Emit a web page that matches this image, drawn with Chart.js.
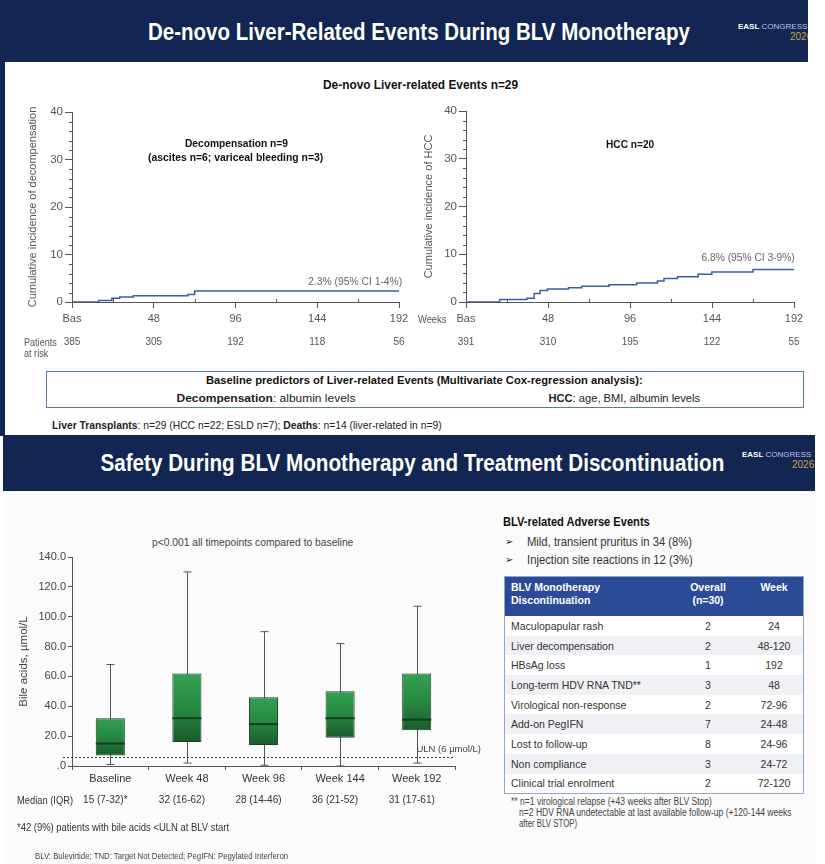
<!DOCTYPE html>
<html>
<head>
<meta charset="utf-8">
<script src="https://cdn.jsdelivr.net/npm/chart.js@4.4.1/dist/chart.umd.min.js"></script>
<style>
body { margin: 0; width: 825px; height: 864px; position: relative; overflow: hidden; background: #fff; font-family: "Liberation Sans", Arial, sans-serif; color: #333; }
.box { position: absolute; }
.t { position: absolute; white-space: nowrap; line-height: 1; }
.navy { background: #132552; }
canvas { position: absolute; }
.logo { position: absolute; color: #fff; font-size: 8px; white-space: nowrap; overflow: hidden; }
.logo b { font-size: 8px; }
.logo span { color: #b9c7e8; }
.logo i { font-style: normal; color: #c9a64a; font-size: 10px; }
table { position: absolute; left: 504px; top: 576px; width: 300px; border-collapse: collapse; font-size: 10.5px; color: #333; border: 1px solid #8ca6cf; }
th { background: #2c4b97; color: #fff; font-weight: bold; font-size: 10.5px; height: 35px; vertical-align: top; padding: 4px 0 0 0; line-height: 13px; }
td { height: 19.7px; padding: 0; }
tbody tr:nth-child(odd) { background: #ffffff; }
tbody tr:nth-child(even) { background: #eff1f5; }
.c1 { text-align: left; padding-left: 6px; }
.c2, .c3 { text-align: center; }
</style>
</head>
<body>

<!-- top section -->
<div class="box navy" style="left:0;top:0;width:808px;height:62px;"></div>
<div class="box navy" style="left:0;top:0;width:5px;height:436px;"></div>
<div class="logo" style="left:738px;top:22px;width:70px;"><b>EASL</b> <span>CONGRESS</span><br><i style="padding-left:52px">2026</i></div>
<div class="t" data-cx="419" data-cy="32" data-w="542" style="color:#fff;font-weight:bold;font-size:23px;">De-novo Liver-Related Events During BLV Monotherapy</div>
<div class="t" data-cx="420" data-cy="85" data-w="195" style="font-weight:bold;font-size:12px;color:#111;">De-novo Liver-related Events n=29</div>

<canvas id="kmLeft" width="420" height="265" style="left:0;top:95px;"></canvas>
<canvas id="kmRight" width="410" height="265" style="left:410px;top:95px;"></canvas>

<div class="t" data-cx="236" data-cy="143" data-w="103" style="font-weight:bold;font-size:11px;color:#111;">Decompensation n=9</div>
<div class="t" data-cx="235" data-cy="157" data-w="175" style="font-weight:bold;font-size:11px;color:#111;">(ascites n=6; variceal bleeding n=3)</div>
<div class="t" data-cx="355" data-cy="281" data-w="94" style="font-size:11px;color:#666;">2.3% (95% CI 1-4%)</div>
<div class="t" data-cx="630" data-cy="144" data-w="48" style="font-weight:bold;font-size:11px;color:#111;">HCC n=20</div>
<div class="t" data-cx="748" data-cy="257" data-w="93" style="font-size:11px;color:#666;">6.8% (95% CI 3-9%)</div>
<div class="t" data-lx="24" data-cy="342" data-w="33" style="font-size:11px;color:#555;">Patients</div>
<div class="t" data-lx="24" data-cy="353" data-w="24" style="font-size:11px;color:#555;">at risk</div>
<div class="t" data-lx="418" data-cy="319" data-w="28" style="font-size:11px;color:#555;">Weeks</div>

<div class="box" style="left:46px;top:371px;width:756px;height:35px;border:1.5px solid #5b78a9;background:#fff;"></div>
<div class="t" data-cx="424" data-cy="381" data-w="437" style="font-weight:bold;font-size:11.5px;color:#111;">Baseline predictors of Liver-related Events (Multivariate Cox-regression analysis):</div>
<div class="t" data-cx="266" data-cy="399" data-w="179" style="font-size:11.5px;color:#222;"><b>Decompensation</b>: albumin levels</div>
<div class="t" data-cx="624" data-cy="399" data-w="152" style="font-size:11.5px;color:#222;"><b>HCC</b>: age, BMI, albumin levels</div>
<div class="t" data-lx="52" data-cy="425" data-w="390" style="font-size:10.5px;color:#222;"><b>Liver Transplants</b>: n=29 (HCC n=22; ESLD n=7); <b>Deaths</b>: n=14 (liver-related in n=9)</div>

<!-- bottom section -->
<div class="box navy" style="left:3px;top:435px;width:812px;height:56px;"></div>
<div class="box" style="left:3px;top:493px;width:812px;height:371px;background:#fbfbfb;"></div>
<div class="logo" style="left:742px;top:450px;width:75px;"><b>EASL</b> <span>CONGRESS</span><br><i style="padding-left:50px">2026</i></div>
<div class="t" data-cx="412" data-cy="463" data-w="624" style="color:#fff;font-weight:bold;font-size:23px;">Safety During BLV Monotherapy and Treatment Discontinuation</div>

<div class="t" data-cx="252" data-cy="543" data-w="201" style="font-size:11.5px;color:#444;">p&lt;0.001 all timepoints compared to baseline</div>
<canvas id="boxChart" width="500" height="280" style="left:0;top:530px;"></canvas>
<div class="t" data-lx="17" data-cy="800" data-w="56" style="font-size:11px;color:#333;">Median (IQR)</div>
<div class="t" data-lx="17" data-cy="827" data-w="212" style="font-size:11px;color:#333;">*42 (9%) patients with bile acids &lt;ULN at BLV start</div>
<div class="t" data-lx="35" data-cy="856" data-w="253" style="font-size:9.5px;color:#444;">BLV: Bulevirtide; TND: Target Not Detected; PegIFN: Pegylated Interferon</div>

<div class="t" data-lx="503" data-cy="522" data-w="147" style="font-weight:bold;font-size:12px;color:#111;">BLV-related Adverse Events</div>
<div class="t" data-lx="505" data-cy="542" style="font-size:10px;color:#222;">&#10146;</div>
<div class="t" data-lx="527" data-cy="542" data-w="165" style="font-size:12px;color:#333;">Mild, transient pruritus in 34 (8%)</div>
<div class="t" data-lx="505" data-cy="560" style="font-size:10px;color:#222;">&#10146;</div>
<div class="t" data-lx="527" data-cy="560" data-w="166" style="font-size:12px;color:#333;">Injection site reactions in 12 (3%)</div>

<table id="discTable">
  <thead><tr><th class="c1" style="width:160px;">BLV Monotherapy<br>Discontinuation</th><th class="c2" style="width:74px;">Overall<br>(n=30)</th><th class="c3">Week</th></tr></thead>
  <tbody id="discBody"></tbody>
</table>

<div class="t" data-lx="511" data-cy="802" data-w="201" style="font-size:10px;color:#444;">** n=1 virological relapse (+43 weeks after BLV Stop)</div>
<div class="t" data-lx="519" data-cy="813" data-w="273" style="font-size:10px;color:#444;">n=2 HDV RNA undetectable at last available follow-up (+120-144 weeks</div>
<div class="t" data-lx="519" data-cy="824" data-w="58" style="font-size:10px;color:#444;">after BLV STOP)</div>

<script>
// cumulative incidence curves (weeks / %)
var decompWeeks = [0, 15.6, 23.4, 28, 36, 68, 72, 192];
var decompValues = [0, 0.3, 0.8, 1.05, 1.3, 1.6, 2.3, 2.3];
var hccWeeks = [0, 19.7, 35.6, 39.9, 43.4, 47.7, 60, 67.8, 83.7, 99.9, 112, 115.9, 123.8, 135.9, 143.9, 168, 192];
var hccValues = [0, 0.5, 0.8, 1.8, 2.4, 2.7, 3.0, 3.3, 3.6, 4.0, 4.4, 4.9, 5.3, 5.8, 6.3, 6.8, 6.8];
var riskWeeks = [0, 48, 96, 144, 192];
var riskDecomp = [385, 305, 192, 118, 56];
var riskHcc = [391, 310, 195, 122, 55];

// bile acids box plot
var timepoints = ["Baseline", "Week 48", "Week 96", "Week 144", "Week 192"];
var baMin = [1, 2, 0.5, 0, 2];
var baQ1 = [7, 16, 14, 19, 24];
var baMedian = [15, 32, 28, 32, 31];
var baQ3 = [32, 62, 46, 50, 62];
var baMax = [68, 130, 90, 82, 107];
var medianLabels = ["15 (7-32)*", "32 (16-62)", "28 (14-46)", "36 (21-52)", "31 (17-61)"];
var uln = 6;

// discontinuation table
var discReasons = ["Maculopapular rash", "Liver decompensation", "HBsAg loss", "Long-term HDV RNA TND**", "Virological non-response", "Add-on PegIFN", "Lost to follow-up", "Non compliance", "Clinical trial enrolment"];
var discCounts = [2, 2, 1, 3, 2, 7, 8, 3, 2];
var discWeeks = ["24", "48-120", "192", "48", "72-96", "24-48", "24-96", "24-72", "72-120"];

Chart.defaults.font.family = '"Liberation Sans", Arial, sans-serif';
Chart.defaults.color = '#555';
Chart.defaults.animation = false;

function placeTexts() {
    document.querySelectorAll('.t').forEach(function (el) {
        var w = el.offsetWidth, h = el.offsetHeight;
        var s = el.dataset.w ? el.dataset.w / w : 1;
        el.style.top = (el.dataset.cy - h / 2) + 'px';
        if (el.dataset.cx) {
            el.style.left = (el.dataset.cx - w / 2) + 'px';
            el.style.transformOrigin = 'center center';
        } else {
            el.style.left = el.dataset.lx + 'px';
            el.style.transformOrigin = 'left center';
        }
        if (s !== 1) el.style.transform = 'scaleX(' + s + ')';
    });
}

function fillTable() {
    var html = "";
    for (var i = 0; i < discReasons.length; i++) {
        html += "<tr><td class='c1'>" + discReasons[i] + "</td><td class='c2'>" + discCounts[i] + "</td><td class='c3'>" + discWeeks[i] + "</td></tr>";
    }
    document.getElementById("discBody").innerHTML = html;
}

// minor ticks + patients at risk row
var kmExtras = {
    id: 'kmExtras',
    afterDraw: function (chart, args, opts) {
        var ctx = chart.ctx, xs = chart.scales.x, ys = chart.scales.y;
        ctx.save();
        ctx.strokeStyle = '#555';
        ctx.lineWidth = 1;
        for (var v = 2; v < 40; v += 2) {
            if (v % 10 === 0) continue;
            var py = Math.round(ys.getPixelForValue(v)) + 0.5;
            ctx.beginPath(); ctx.moveTo(xs.left - 3, py); ctx.lineTo(xs.left, py); ctx.stroke();
        }
        for (var w = 24; w < 192; w += 48) {
            var px = Math.round(xs.getPixelForValue(w)) + 0.5;
            ctx.beginPath(); ctx.moveTo(px, ys.bottom); ctx.lineTo(px, ys.bottom - 3); ctx.stroke();
        }
        ctx.fillStyle = '#555';
        ctx.font = '10px "Liberation Sans", Arial, sans-serif';
        ctx.textAlign = 'center';
        ctx.textBaseline = 'middle';
        for (var i = 0; i < opts.risk.length; i++) {
            ctx.fillText(opts.risk[i], xs.getPixelForValue(riskWeeks[i]), chart.chartArea.bottom + 40);
        }
        ctx.restore();
    }
};

function kmChart(id, weeks, values, risk, title, pad, yWidth) {
    var pts = weeks.map(function (w, i) { return { x: w, y: values[i] }; });
    return new Chart(document.getElementById(id), {
        type: 'line',
        data: {
            datasets: [{
                data: pts,
                borderColor: '#3c5ca6',
                borderWidth: 1.5,
                pointRadius: 0,
                stepped: true,
                fill: false
            }]
        },
        options: {
            responsive: false,
            layout: { padding: pad },
            plugins: { legend: { display: false }, tooltip: { enabled: false }, kmExtras: { risk: risk } },
            scales: {
                x: {
                    type: 'linear', min: 0, max: 192,
                    afterFit: function (s) { s.height = 58; },
                    ticks: { stepSize: 48, autoSkip: false, maxRotation: 0, padding: 4, color: '#555', font: { size: 11 },
                        callback: function (v) { return v === 0 ? 'Bas' : v; } },
                    grid: { drawOnChartArea: false, tickLength: 6, color: '#555' },
                    border: { color: '#555' }
                },
                y: {
                    min: 0, max: 40,
                    afterFit: function (s) { s.width = yWidth; },
                    ticks: { stepSize: 10, padding: 2, color: '#555', font: { size: 11.5 } },
                    grid: { drawOnChartArea: false, tickLength: 7, color: '#555' },
                    border: { color: '#555' },
                    title: { display: true, text: title, color: '#555', font: { size: 11 } }
                }
            }
        },
        plugins: [kmExtras]
    });
}

// whiskers, medians, ULN line and median labels
var boxExtras = {
    id: 'boxExtras',
    beforeDatasetsDraw: function (chart) {
        var ctx = chart.ctx, xs = chart.scales.x, ys = chart.scales.y;
        ctx.save();
        ctx.strokeStyle = '#555';
        ctx.lineWidth = 1;
        for (var i = 0; i < timepoints.length; i++) {
            var x = Math.round(xs.getPixelForValue(i)) + 0.5;
            var top = ys.getPixelForValue(baMax[i]), bot = ys.getPixelForValue(baMin[i]);
            ctx.beginPath();
            ctx.moveTo(x, top); ctx.lineTo(x, bot);
            ctx.moveTo(x - 4, top); ctx.lineTo(x + 4, top);
            ctx.moveTo(x - 4, bot); ctx.lineTo(x + 4, bot);
            ctx.stroke();
        }
        ctx.restore();
    },
    afterDatasetsDraw: function (chart) {
        var ctx = chart.ctx, xs = chart.scales.x, ys = chart.scales.y;
        var meta = chart.getDatasetMeta(0);
        ctx.save();
        ctx.strokeStyle = '#143a21';
        ctx.lineWidth = 2;
        for (var i = 0; i < timepoints.length; i++) {
            var bar = meta.data[i];
            var y = ys.getPixelForValue(baMedian[i]);
            ctx.beginPath(); ctx.moveTo(bar.x - bar.width / 2, y); ctx.lineTo(bar.x + bar.width / 2, y); ctx.stroke();
        }
        var yu = Math.round(ys.getPixelForValue(uln)) + 0.5;
        ctx.strokeStyle = '#333';
        ctx.lineWidth = 1;
        ctx.setLineDash([2, 2]);
        ctx.beginPath(); ctx.moveTo(chart.chartArea.left - 9, yu); ctx.lineTo(chart.chartArea.right, yu); ctx.stroke();
        ctx.setLineDash([]);
        ctx.fillStyle = '#444';
        ctx.font = '9.5px "Liberation Sans", Arial, sans-serif';
        ctx.textAlign = 'right';
        ctx.textBaseline = 'middle';
        ctx.fillText('ULN (6 µmol/L)', chart.chartArea.right + 26, yu - 8);
        ctx.restore();
    },
    afterDraw: function (chart) {
        var ctx = chart.ctx, xs = chart.scales.x;
        ctx.save();
        ctx.fillStyle = '#333';
        ctx.font = '10px "Liberation Sans", Arial, sans-serif';
        ctx.textAlign = 'center';
        ctx.textBaseline = 'middle';
        for (var i = 0; i < medianLabels.length; i++) {
            ctx.fillText(medianLabels[i], xs.getPixelForValue(i) - 5, chart.chartArea.bottom + 34);
        }
        ctx.restore();
    }
};

function boxFill(c) {
    var chart = c.chart;
    if (!chart.chartArea || c.dataIndex === undefined) return '#27843f';
    var ys = chart.scales.y;
    var top = ys.getPixelForValue(baQ3[c.dataIndex]);
    var bot = ys.getPixelForValue(baQ1[c.dataIndex]);
    var g = chart.ctx.createLinearGradient(0, top, 0, bot);
    g.addColorStop(0, '#35a152');
    g.addColorStop(0.5, '#268a40');
    g.addColorStop(1, '#1a5a2d');
    return g;
}

function boxChart() {
    new Chart(document.getElementById('boxChart'), {
        type: 'bar',
        data: {
            labels: timepoints,
            datasets: [{
                data: baQ1.map(function (q, i) { return [q, baQ3[i]]; }),
                backgroundColor: boxFill,
                borderColor: '#1e3f29',
                borderWidth: 1,
                borderSkipped: false,
                barPercentage: 0.38,
                categoryPercentage: 1
            }]
        },
        options: {
            responsive: false,
            layout: { padding: { left: 13, right: 45, top: 27, bottom: 0 } },
            plugins: { legend: { display: false }, tooltip: { enabled: false } },
            scales: {
                x: {
                    afterFit: function (s) { s.height = 44; },
                    ticks: { padding: 2, color: '#333', font: { size: 11 } },
                    grid: { drawOnChartArea: false, tickLength: 4, color: '#555' },
                    border: { color: '#555' }
                },
                y: {
                    min: 0, max: 140,
                    afterFit: function (s) { s.width = 59; },
                    ticks: { stepSize: 20, padding: 2, color: '#444', font: { size: 11 },
                        callback: function (v) { return v === 0 ? '.0' : v.toFixed(1); } },
                    grid: { drawOnChartArea: false, tickLength: 4, color: '#555' },
                    border: { color: '#555' },
                    title: { display: true, text: 'Bile acids, µmol/L', color: '#444', font: { size: 11.5 } }
                }
            }
        },
        plugins: [boxExtras]
    });
}

window.onload = function () {
    fillTable();
    placeTexts();
    kmChart('kmLeft', decompWeeks, decompValues, riskDecomp, 'Cumulative incidence of decompensation', { left: 22, right: 21, top: 17, bottom: 0 }, 50);
    kmChart('kmRight', hccWeeks, hccValues, riskHcc, 'Cumulative incidence of HCC', { left: 8, right: 26, top: 16, bottom: 0 }, 48);
    boxChart();
}
</script>
</body>
</html>
